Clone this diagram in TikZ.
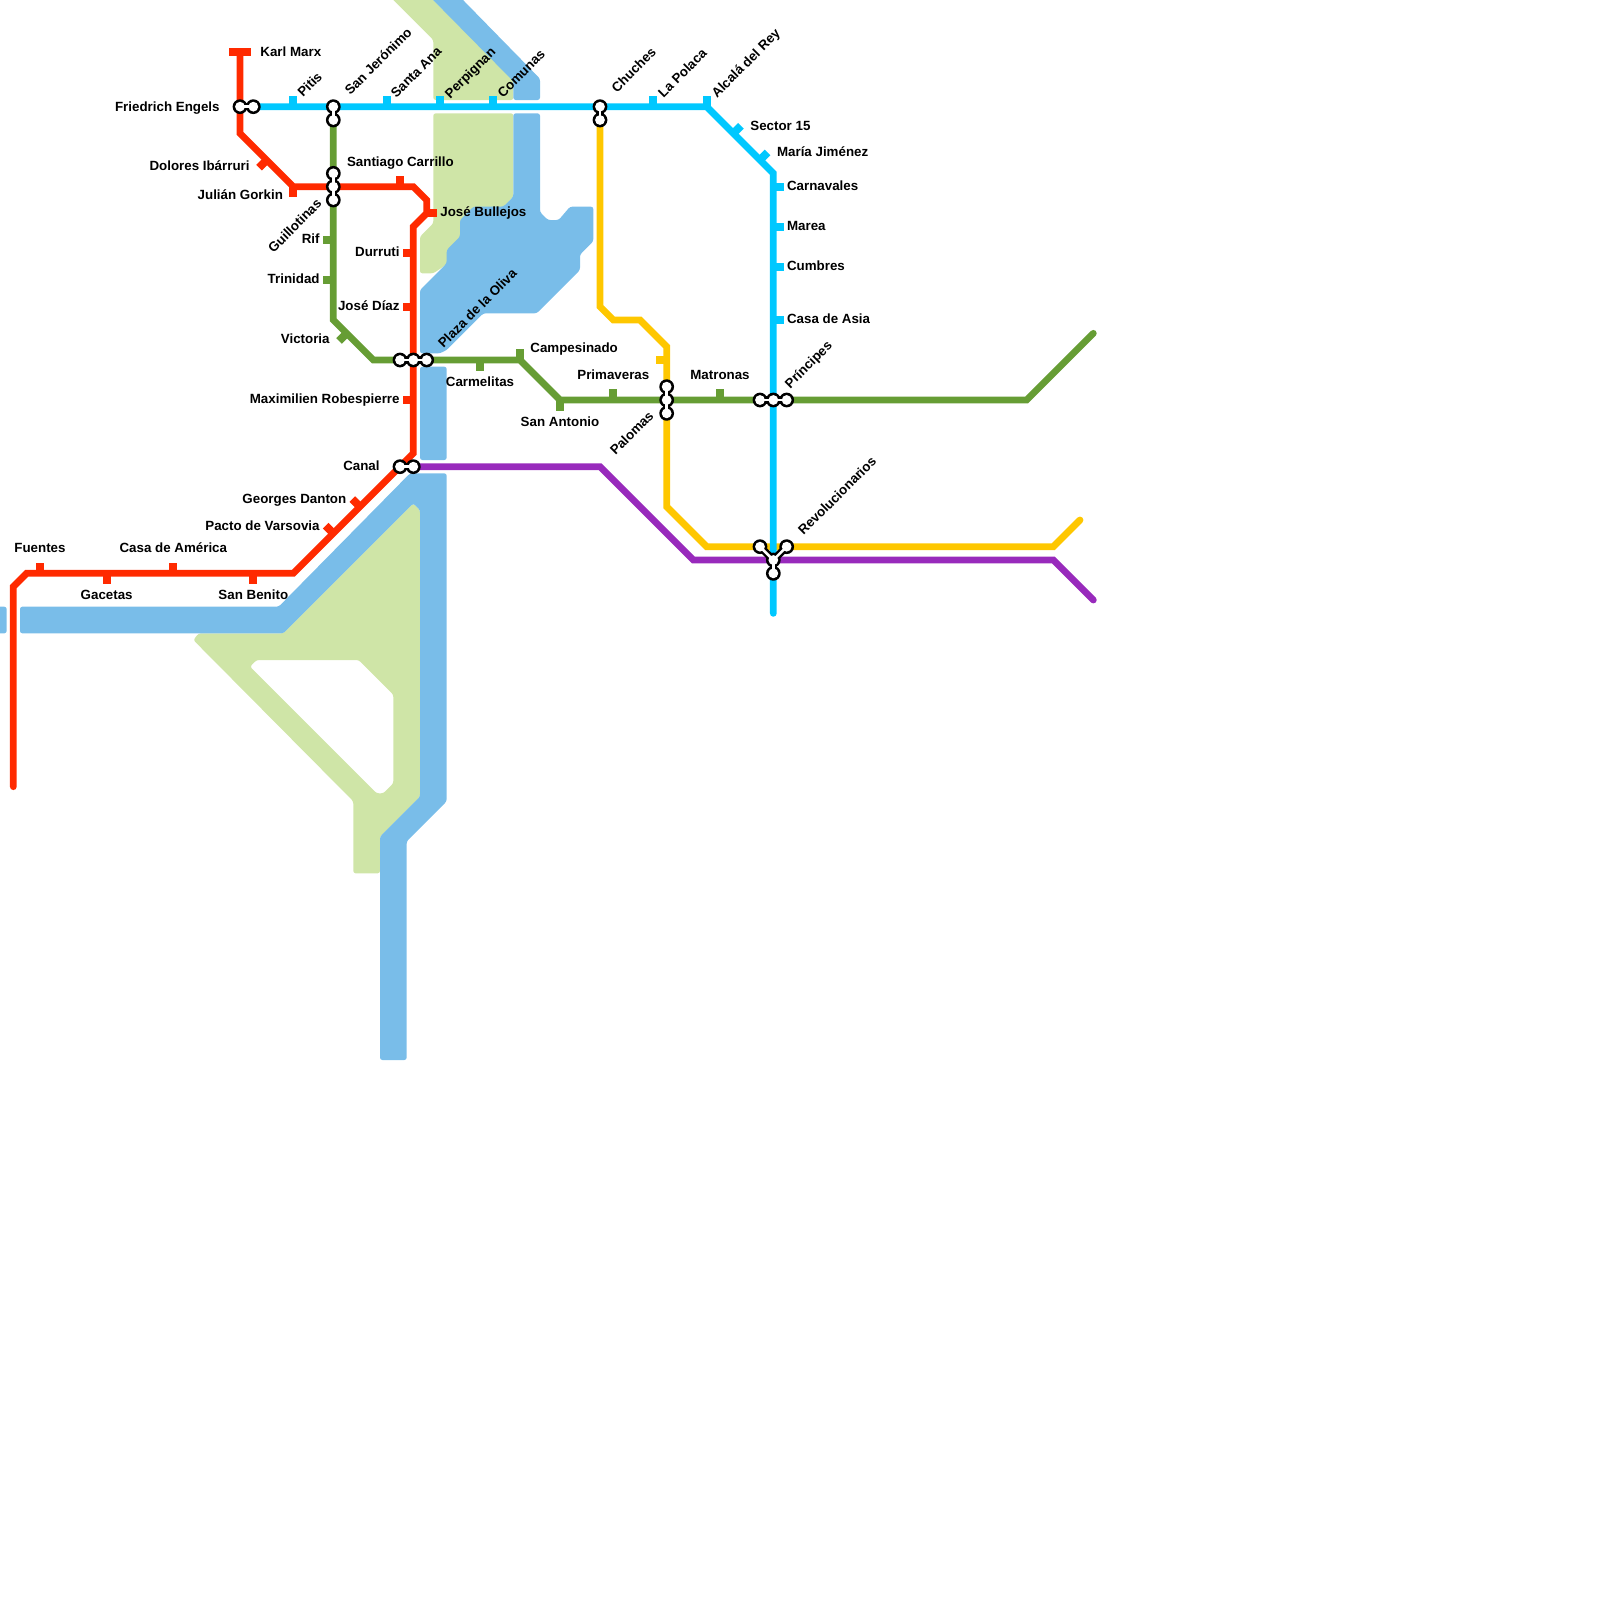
\documentclass[tikz,border=0pt]{standalone}
\usepackage{fontspec}
\setmainfont{Liberation Sans}
\definecolor{metrored}{HTML}{FF2A00}
\definecolor{metrocyan}{HTML}{00C8FF}
\definecolor{metrogreen}{HTML}{669D34}
\definecolor{metroyellow}{HTML}{FEC700}
\definecolor{metropurple}{HTML}{982ABC}
\definecolor{water}{HTML}{79BDE9}
\definecolor{land}{HTML}{CFE5A7}

\begin{document}
\begin{tikzpicture}[
  x=6.6667pt, y=-6.6667pt,
  rail/.style={line width=3.4pt, line cap=round, line join=miter},
  tick/.style={line width=4pt},
  lbl/.style={font=\fontsize{6.67pt}{8pt}\bfseries, inner sep=0pt, text height=4.8pt, text depth=0pt, text=black},
  lble/.style={lbl, anchor=east},
  lblw/.style={lbl, anchor=west},
  lblr/.style={lblw, rotate=45},
  lblq/.style={lble, rotate=45},
  waterbody/.style={fill=water, rounded corners=1.2pt},
  landbody/.style={fill=land, rounded corners=1.2pt},
  haltout/.style={circle, fill=black, draw=none, inner sep=0pt, outer sep=0pt, minimum size=7.4pt},
  haltin/.style={circle, fill=white, draw=none, inner sep=0pt, outer sep=0pt, minimum size=4.9pt},
  neckout/.style={black, line width=3.7pt},
  neckin/.style={white, line width=1.3pt},
]
\useasboundingbox (0,0) rectangle (120,120);

% land
\fill[landbody] (28.5,-1) -- (32.5,3) -- (32.5,7.5) -- (38.5,7.5) -- (38.5,6) -- (31.5,-1) -- cycle;
\fill[landbody] (32.5,8.5) -- (38.5,8.5) -- (38.5,14.75) -- (34,19.5) -- (32.5,20.5) -- (31.5,20.5) -- (31.5,17.75) -- (32.5,16.75) -- cycle;
\fill[landbody, even odd rule] (14.5,48) -- (14.9,47.5) -- (21.25,47.5) -- (31,37.75) -- (31.5,38.25) -- (31.5,59.75) -- (28.5,62.75) -- (28.5,65.5) -- (26.5,65.5) -- (26.5,60.1) -- cycle
  (18.75,50) -- (19.25,49.5) -- (26.9,49.5) -- (29.5,52.1) -- (29.5,58.75) -- (28.75,59.5) -- (28.25,59.5) -- cycle;

% water
\fill[waterbody] (31.5,-1) -- (33.75,-1) -- (40.5,5.9) -- (40.5,7.5) -- (38.5,7.5) -- (38.5,6.1) -- cycle;
\fill[waterbody] (38.5,8.5) -- (40.5,8.5) -- (40.5,15.9) -- (41.1,16.5) -- (41.9,16.5) -- (42.75,15.5) -- (44.5,15.5) -- (44.5,18.1) -- (43.5,19.1) -- (43.5,20.25) -- (40.25,23.5) -- (36.25,23.5) -- (33.5,26.25) -- (33,26.5) -- (31.5,26.5) -- (31.5,21.75) -- (33.5,19.75) -- (33.5,18.75) -- (34.5,17.75) -- (34.5,16.5) -- (35.5,15.5) -- (37.75,15.5) -- (38.5,14.75) -- cycle;
\fill[waterbody] (31.5,27.5) rectangle (33.5,34.5);
\fill[waterbody] (1.5,45.5) -- (20.9,45.5) -- (30.75,35.5) -- (33.5,35.5) -- (33.5,60.1) -- (30.5,63.1) -- (30.5,79.5) -- (28.5,79.5) -- (28.5,62.75) -- (31.5,59.75) -- (31.5,38.25) -- (31,37.75) -- (21.25,47.5) -- (1.5,47.5) -- cycle;
\fill[waterbody] (-1,45.5) rectangle (0.5,47.5);

% lines
\draw[rail, metrored] (18,4) -- (18,10) -- (22,14) -- (31,14) -- (32,15) -- (32,16) -- (31,17) -- (31,34) -- (22,43) -- (2,43) -- (1,44) -- (1,59);
\draw[rail, metrogreen] (25,9) -- (25,24) -- (28,27) -- (39,27) -- (42,30) -- (77,30) -- (82,25);
\draw[rail, metroyellow] (45,9) -- (45,23) -- (46,24) -- (48,24) -- (50,26) -- (50,38) -- (53,41) -- (79,41) -- (81,39);
\draw[rail, metropurple] (31,35) -- (45,35) -- (52,42) -- (79,42) -- (82,45);
\draw[rail, metrocyan] (19,8) -- (53,8) -- (58,13) -- (58,46);

% ticks, red
\draw[tick, metrored] (17.2,3.88) -- (18.8,3.88);
\draw[tick, metrored] (20,12) -- ++(-.57,.57);
\draw[tick, metrored] (22,14) -- ++(0,.8);
\draw[tick, metrored] (30,14) -- ++(0,-.8);
\draw[tick, metrored] (32,16) -- ++(.8,0);
\draw[tick, metrored] (31,19) -- ++(-.8,0);
\draw[tick, metrored] (31,23) -- ++(-.8,0);
\draw[tick, metrored] (31,30) -- ++(-.8,0);
\draw[tick, metrored] (27,38) -- ++(-.57,-.57);
\draw[tick, metrored] (25,40) -- ++(-.57,-.57);
\draw[tick, metrored] (3,43) -- ++(0,-.8);
\draw[tick, metrored] (8,43) -- ++(0,.8);
\draw[tick, metrored] (13,43) -- ++(0,-.8);
\draw[tick, metrored] (19,43) -- ++(0,.8);
% ticks, cyan
\draw[tick, metrocyan] (22,8) -- ++(0,-.8);
\draw[tick, metrocyan] (29,8) -- ++(0,-.8);
\draw[tick, metrocyan] (33,8) -- ++(0,-.8);
\draw[tick, metrocyan] (37,8) -- ++(0,-.8);
\draw[tick, metrocyan] (49,8) -- ++(0,-.8);
\draw[tick, metrocyan] (53,8) -- ++(0,-.8);
\draw[tick, metrocyan] (55,10) -- ++(.57,-.57);
\draw[tick, metrocyan] (57,12) -- ++(.57,-.57);
\draw[tick, metrocyan] (58,14) -- ++(.8,0);
\draw[tick, metrocyan] (58,17) -- ++(.8,0);
\draw[tick, metrocyan] (58,20) -- ++(.8,0);
\draw[tick, metrocyan] (58,24) -- ++(.8,0);
% ticks, green
\draw[tick, metrogreen] (25,18) -- ++(-.8,0);
\draw[tick, metrogreen] (25,21) -- ++(-.8,0);
\draw[tick, metrogreen] (26,25) -- ++(-.57,.57);
\draw[tick, metrogreen] (36,27) -- ++(0,.8);
\draw[tick, metrogreen] (39,27) -- ++(0,-.8);
\draw[tick, metrogreen] (42,30) -- ++(0,.8);
\draw[tick, metrogreen] (46,30) -- ++(0,-.8);
\draw[tick, metrogreen] (54,30) -- ++(0,-.8);
% ticks, yellow
\draw[tick, metroyellow] (50,27) -- ++(-.8,0);

% interchanges
\foreach \n/\x/\y in {engA/18/8, engB/19/8, jerA/25/8, jerB/25/9, carA/25/13, carB/25/14, carC/25/15,
    oliA/30/27, oliB/31/27, oliC/32/27, canA/30/35, canB/31/35, chuA/45/8, chuB/45/9,
    palA/50/29, palB/50/30, palC/50/31, priA/57/30, priB/58/30, priC/59/30,
    revA/57/41, revB/59/41, revC/58/42, revD/58/43}
  \node[haltout] (\n) at (\x,\y) {};
\foreach \a/\b in {engA/engB, jerA/jerB, carA/carB, carB/carC, oliA/oliB, oliB/oliC, canA/canB, chuA/chuB,
    palA/palB, palB/palC, priA/priB, priB/priC, revA/revC, revB/revC, revC/revD}
  \draw[neckout] (\a.center) -- (\b.center);
\foreach \n/\x/\y in {engA/18/8, engB/19/8, jerA/25/8, jerB/25/9, carA/25/13, carB/25/14, carC/25/15,
    oliA/30/27, oliB/31/27, oliC/32/27, canA/30/35, canB/31/35, chuA/45/8, chuB/45/9,
    palA/50/29, palB/50/30, palC/50/31, priA/57/30, priB/58/30, priC/59/30,
    revA/57/41, revB/59/41, revC/58/42, revD/58/43}
  \node[haltin] (\n in) at (\x,\y) {};
\foreach \a/\b in {engA/engB, jerA/jerB, carA/carB, carB/carC, oliA/oliB, oliB/oliC, canA/canB, chuA/chuB,
    palA/palB, palB/palC, priA/priB, priB/priC, revA/revC, revB/revC, revC/revD}
  \draw[neckin] (\a in.center) -- (\b in.center);

% labels
\node[lblw] (marx) at (19.5,3.9) {Karl Marx};
\node[lble] (engels) at (16.5,8) {Friedrich Engels};
\node[lblr] (pitis) at (22.45,7.1) {Pitis};
\node[lblr] (jeronimo) at (26,6.95) {San Jerónimo};
\node[lblr] (santaana) at (29.45,7.15) {Santa Ana};
\node[lblr] (perpignan) at (33.5,7.2) {Perpignan};
\node[lblr] (comunas) at (37.45,7.15) {Comunas};
\node[lblr] (chuches) at (46,6.75) {Chuches};
\node[lblr] (polaca) at (49.5,7.15) {La Polaca};
\node[lblr] (alcala) at (53.5,7.15) {Alcalá del Rey};
\node[lblw] (sector) at (56.25,9.4) {Sector 15};
\node[lblw] (jimenez) at (58.25,11.4) {María Jiménez};
\node[lblw] (carnavales) at (59,13.9) {Carnavales};
\node[lblw] (marea) at (59,16.9) {Marea};
\node[lblw] (cumbres) at (59,19.9) {Cumbres};
\node[lblw] (casaasia) at (59,23.9) {Casa de Asia};
\node[lblr] (principes) at (59,28.95) {Príncipes};
\node[lblr] (revol) at (60,39.95) {Revolucionarios};
\node[lble] (dolores) at (18.75,12.4) {Dolores Ibárruri};
\node[lble] (gorkin) at (21.25,14.6) {Julián Gorkin};
\node[lblw] (carrillo) at (26,12.1) {Santiago Carrillo};
\node[lblw] (bullejos) at (33,15.9) {José Bullejos};
\node[lblq] (guillotinas) at (23.95,15.07) {Guillotinas};
\node[lble] (rif) at (24,17.9) {Rif};
\node[lble] (trinidad) at (24,20.9) {Trinidad};
\node[lble] (durruti) at (30,18.9) {Durruti};
\node[lble] (diaz) at (30,22.9) {José Díaz};
\node[lble] (victoria) at (24.75,25.4) {Victoria};
\node[lblr] (oliva) at (33,25.9) {Plaza de la Oliva};
\node[lble] (robespierre) at (30,29.9) {Maximilien Robespierre};
\node[lblw] (campesinado) at (39.75,26.1) {Campesinado};
\node[lbl] (carmelitas) at (36,28.6) {Carmelitas};
\node[lbl] (primaveras) at (46,28.1) {Primaveras};
\node[lbl] (antonio) at (42,31.6) {San Antonio};
\node[lbl] (matronas) at (54,28.1) {Matronas};
\node[lblq] (palomas) at (48.85,31) {Palomas};
\node[lble] (canal) at (28.5,34.9) {Canal};
\node[lble] (danton) at (26,37.4) {Georges Danton};
\node[lble] (varsovia) at (24,39.4) {Pacto de Varsovia};
\node[lbl] (fuentes) at (3,41.1) {Fuentes};
\node[lbl] (casaamerica) at (13,41.1) {Casa de América};
\node[lbl] (gacetas) at (8,44.6) {Gacetas};
\node[lbl] (benito) at (19,44.6) {San Benito};

\end{tikzpicture}
\end{document}
